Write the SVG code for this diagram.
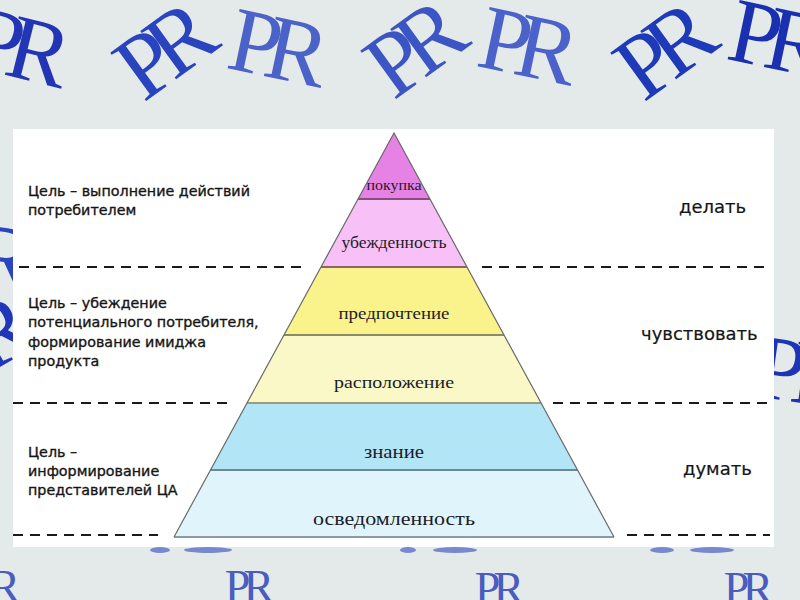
<svg xmlns="http://www.w3.org/2000/svg" width="800" height="600" viewBox="0 0 800 600">
  <defs>
    <style>
      .pr { font-family: "Liberation Serif", "DejaVu Serif", serif; font-size: 92px; letter-spacing: -14px; text-anchor: middle; }
      .prs { font-family: "Liberation Serif", "DejaVu Serif", serif; font-size: 46px; letter-spacing: -7px; text-anchor: middle; fill: #4a5cbf; }
      .lvl { font-family: "Liberation Serif", "Times New Roman", serif; fill: #1c1c2a; text-anchor: middle; }
      .goal { font-family: "DejaVu Sans", "Verdana", sans-serif; font-size: 14.3px; fill: #151515; stroke: #151515; stroke-width: 0.35; }
      .act { font-family: "DejaVu Sans", "Verdana", sans-serif; font-size: 18px; fill: #151515; stroke: #151515; stroke-width: 0.2; }
      .dash { stroke: #1a1a1a; stroke-width: 2; stroke-dasharray: 10 7; fill: none; }
      .edge { stroke: #6a6a6a; stroke-width: 1.2; }
    </style>
  </defs>

  <!-- background -->
  <rect x="0" y="0" width="800" height="600" fill="#e4eae9"/>

  <!-- PR watermarks -->
  <g id="watermarks">
    <text class="pr" fill="#2236b5" transform="translate(14,46) rotate(14)" y="30">PR</text>
    <text class="pr" fill="#2a44c0" transform="translate(160,54) rotate(-36)" y="30">PR</text>
    <text class="pr" fill="#4b63c9" transform="translate(272,47) rotate(12)" y="30">PR</text>
    <text class="pr" fill="#3c55c5" transform="translate(410,52) rotate(-36)" y="30">PR</text>
    <text class="pr" fill="#4a62c9" transform="translate(522,45) rotate(12)" y="30">PR</text>
    <text class="pr" fill="#1e3ab8" transform="translate(660,54) rotate(-36)" y="30">PR</text>
    <text class="pr" fill="#1a30b0" transform="translate(772,38) rotate(12)" y="30">PR</text>
    <text class="pr" fill="#2a44c0" transform="translate(-20,255) rotate(8)" y="30">PR</text>
    <text class="pr" fill="#2036b8" transform="translate(-22,345) rotate(-30)" y="30">PR</text>
    <text class="pr" fill="#1e34b4" transform="translate(797,372) rotate(8)" y="30">PR</text>
    <text class="prs" x="-8" y="602">PR</text>
    <text class="prs" x="246" y="602">PR</text>
    <text class="prs" x="496" y="604">PR</text>
    <text class="prs" x="745" y="604">PR</text>
    <g fill="#4a60c4" opacity="0.7">
      <ellipse cx="160" cy="550" rx="10" ry="3"/>
      <ellipse cx="208" cy="550" rx="24" ry="3"/>
      <ellipse cx="408" cy="550" rx="8" ry="3"/>
      <ellipse cx="455" cy="550" rx="22" ry="3"/>
      <ellipse cx="662" cy="550" rx="12" ry="3"/>
      <ellipse cx="712" cy="550" rx="22" ry="3"/>
    </g>
  </g>

  <!-- white panel -->
  <rect x="13" y="129" width="761" height="418" fill="#ffffff"/>

  <!-- pyramid layers -->
  <g id="layer-pokupka">
    <polygon points="394,133 430,199 358,199" fill="#e682e6"/>
    <text class="lvl" x="394" y="190" font-size="15" textLength="55" lengthAdjust="spacingAndGlyphs">покупка</text>
  </g>
  <g id="layer-ubezhdennost">
    <polygon points="358,199 430,199 467,267 321,267" fill="#f7c0f7"/>
    <text class="lvl" x="394" y="248" font-size="16" textLength="105" lengthAdjust="spacingAndGlyphs">убежденность</text>
  </g>
  <g id="layer-predpochtenie">
    <polygon points="321,267 467,267 504,335 284,335" fill="#faf38c"/>
    <text class="lvl" x="394" y="319" font-size="17" textLength="111" lengthAdjust="spacingAndGlyphs">предпочтение</text>
  </g>
  <g id="layer-raspolozhenie">
    <polygon points="284,335 504,335 541,403 247,403" fill="#f9f8c6"/>
    <text class="lvl" x="394" y="388" font-size="17" textLength="120" lengthAdjust="spacingAndGlyphs">расположение</text>
  </g>
  <g id="layer-znanie">
    <polygon points="247,403 541,403 577.5,470 210.5,470" fill="#b2e6f7"/>
    <text class="lvl" x="394" y="458" font-size="18" textLength="60" lengthAdjust="spacingAndGlyphs">знание</text>
  </g>
  <g id="layer-osvedomlennost">
    <polygon points="210.5,470 577.5,470 614,537 174,537" fill="#e0f4fb"/>
    <text class="lvl" x="394" y="525" font-size="18" textLength="162" lengthAdjust="spacingAndGlyphs">осведомленность</text>
  </g>

  <!-- layer borders -->
  <g id="pyramid-borders" fill="none">
    <line x1="358" y1="199" x2="430" y2="199" stroke="#8a4e7c" stroke-width="2.2"/>
    <line x1="321" y1="267" x2="467" y2="267" stroke="#8e6464" stroke-width="2.2"/>
    <line x1="284" y1="335" x2="504" y2="335" stroke="#8c8a68" stroke-width="2.2"/>
    <line x1="247" y1="403" x2="541" y2="403" stroke="#9c9a78" stroke-width="2.2"/>
    <line x1="210.5" y1="470" x2="577.5" y2="470" stroke="#6f8890" stroke-width="2.2"/>
    <line x1="174" y1="537" x2="614" y2="537" stroke="#8a9ca2" stroke-width="2"/>
    <polyline class="edge" points="174,537 394,133 614,537"/>
  </g>

  <!-- goal texts -->
  <g id="goal-do">
    <text class="goal" x="28" y="196">Цель – выполнение действий</text>
    <text class="goal" x="28" y="215">потребителем</text>
  </g>
  <g id="goal-feel">
    <text class="goal" x="28" y="308">Цель – убеждение</text>
    <text class="goal" x="28" y="327">потенциального потребителя,</text>
    <text class="goal" x="28" y="347">формирование имиджа</text>
    <text class="goal" x="28" y="366">продукта</text>
  </g>
  <g id="goal-think">
    <text class="goal" x="28" y="457">Цель –</text>
    <text class="goal" x="28" y="476">информирование</text>
    <text class="goal" x="28" y="495">представителей ЦА</text>
  </g>

  <!-- action labels -->
  <g id="act-do"><text class="act" x="679" y="213">делать</text></g>
  <g id="act-feel"><text class="act" x="641" y="340">чувствовать</text></g>
  <g id="act-think"><text class="act" x="683" y="475">думать</text></g>

  <!-- dashed separators -->
  <g id="connectors">
    <line class="dash" x1="19" y1="267" x2="305" y2="267"/>
    <line class="dash" x1="482" y1="267" x2="767" y2="267"/>
    <line class="dash" x1="13" y1="403" x2="227" y2="403"/>
    <line class="dash" x1="553" y1="403" x2="768" y2="403"/>
    <line class="dash" x1="13" y1="535" x2="158" y2="535"/>
    <line class="dash" x1="627" y1="535" x2="770" y2="535"/>
  </g>
</svg>
